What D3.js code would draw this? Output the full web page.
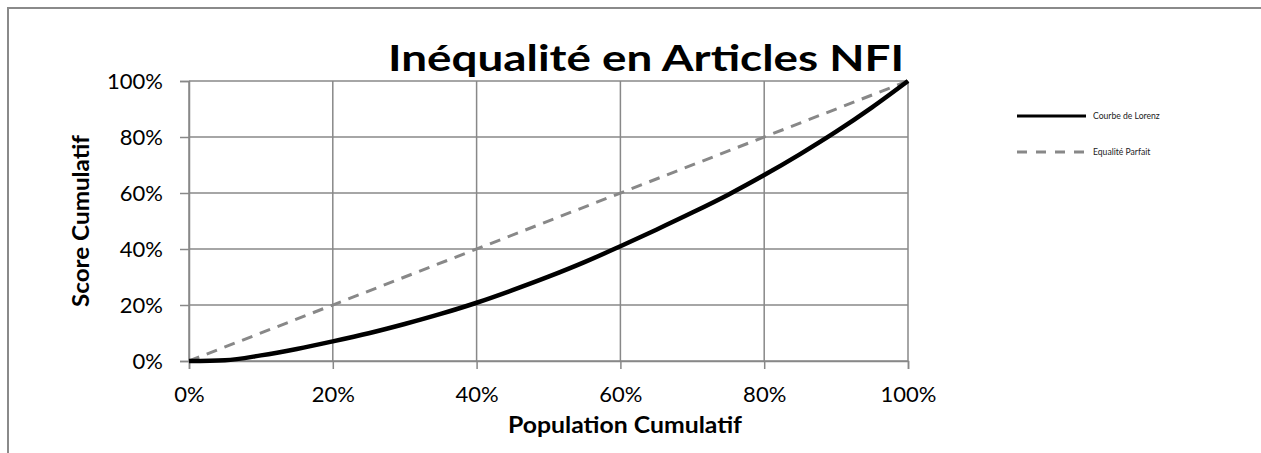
<!DOCTYPE html>
<html>
<head>
<meta charset="utf-8">
<script src="https://cdn.jsdelivr.net/npm/d3@7.9.0/dist/d3.min.js"></script>
<style>
  body { margin: 0; background: #fff; }
  svg { display: block; font-family: Lato, "Open Sans", sans-serif; }
</style>
</head>
<body>
<svg id="chart" width="1261" height="453"></svg>
<script>
// data
const population = [0, 0.05, 0.10, 0.15, 0.20, 0.25, 0.30, 0.35, 0.40, 0.45, 0.50, 0.55, 0.60, 0.65, 0.70, 0.75, 0.80, 0.85, 0.90, 0.95, 1.0];
const lorenz     = [0, 0.003, 0.020, 0.043, 0.070, 0.099, 0.132, 0.168, 0.208, 0.253, 0.301, 0.353, 0.410, 0.469, 0.530, 0.594, 0.664, 0.739, 0.819, 0.906, 1.0];
const equality   = [0, 1];
const ticks = [0, 0.2, 0.4, 0.6, 0.8, 1.0];
const seriesNames = ['Courbe de Lorenz', 'Equalité Parfait'];

const svg = d3.select('#chart');
const grey = '#888888';

// outer frame (only left and top edges are visible)
svg.append('rect')
    .attr('x', 8).attr('y', 8)
    .attr('width', 1400).attr('height', 600)
    .attr('fill', 'none')
    .attr('stroke', '#8a8a8a')
    .attr('stroke-width', 2);

const x = d3.scaleLinear().domain([0, 1]).range([189, 908]);
const y = d3.scaleLinear().domain([0, 1]).range([361, 81]);
const pct = d3.format('.0%');

// gridlines
svg.append('g')
    .selectAll('line')
    .data(ticks)
    .join('line')
    .attr('x1', x(0)).attr('x2', x(1))
    .attr('y1', (d) => y(d)).attr('y2', (d) => y(d))
    .attr('stroke', grey).attr('stroke-width', 1.5);

svg.append('g')
    .selectAll('line')
    .data(ticks)
    .join('line')
    .attr('x1', (d) => x(d)).attr('x2', (d) => x(d))
    .attr('y1', y(0)).attr('y2', y(1))
    .attr('stroke', grey).attr('stroke-width', 1.5);

// axes
const xAxis = svg.append('g')
    .attr('transform', `translate(0,${y(0)})`)
    .call(d3.axisBottom(x).tickValues(ticks).tickFormat(pct).tickSize(8).tickPadding(17));
const yAxis = svg.append('g')
    .attr('transform', `translate(${x(0)},0)`)
    .call(d3.axisLeft(y).tickValues(ticks).tickFormat(pct).tickSize(9).tickPadding(17));

[xAxis, yAxis].forEach((g) => {
    g.select('.domain').attr('stroke', grey).attr('stroke-width', 1.5);
    g.selectAll('.tick line').attr('stroke', grey).attr('stroke-width', 1.5);
    g.selectAll('.tick text')
        .attr('fill', '#000')
        .style('font-family', 'Lato, sans-serif')
        .style('font-size', '22px');
});
yAxis.selectAll('.tick text').attr('dy', '0.36em');

// lines
const line = d3.line()
    .x((d) => x(d[0]))
    .y((d) => y(d[1]))
    .curve(d3.curveMonotoneX);

svg.append('path')
    .datum(equality.map((v) => [v, v]))
    .attr('d', line)
    .attr('fill', 'none')
    .attr('stroke', grey)
    .attr('stroke-width', 3)
    .attr('stroke-dasharray', '11,8');

svg.append('path')
    .datum(population.map((p, i) => [p, lorenz[i]]))
    .attr('d', line)
    .attr('fill', 'none')
    .attr('stroke', '#000')
    .attr('stroke-width', 4.5)
    .attr('stroke-linejoin', 'round');

// title and axis titles
svg.append('text')
    .attr('x', 646).attr('y', 71)
    .attr('text-anchor', 'middle')
    .attr('font-weight', 'bold')
    .attr('font-size', 37)
    .attr('textLength', 516)
    .attr('lengthAdjust', 'spacingAndGlyphs')
    .text('Inéqualité en Articles NFI');

svg.append('text')
    .attr('x', 625).attr('y', 433)
    .attr('text-anchor', 'middle')
    .attr('font-weight', 'bold')
    .attr('font-size', 23)
    .attr('textLength', 234)
    .attr('lengthAdjust', 'spacingAndGlyphs')
    .text('Population Cumulatif');

svg.append('text')
    .attr('transform', `translate(89,${(y(0) + y(1)) / 2}) rotate(-90)`)
    .attr('text-anchor', 'middle')
    .attr('font-weight', 'bold')
    .attr('font-size', 23)
    .attr('textLength', 172)
    .attr('lengthAdjust', 'spacingAndGlyphs')
    .text('Score Cumulatif');

// legend
const legend = svg.append('g');
const legendY = [116, 152];
legend.selectAll('line')
    .data(seriesNames)
    .join('line')
    .attr('x1', 1017).attr('x2', 1086)
    .attr('y1', (d, i) => legendY[i]).attr('y2', (d, i) => legendY[i])
    .attr('stroke', (d, i) => (i === 0 ? '#000' : grey))
    .attr('stroke-width', 3)
    .attr('stroke-dasharray', (d, i) => (i === 0 ? null : '10,9'));
legend.selectAll('text')
    .data(seriesNames)
    .join('text')
    .attr('x', 1093)
    .attr('y', (d, i) => legendY[i])
    .attr('dy', '0.35em')
    .attr('font-size', 8.6)
    .attr('fill', '#222')
    .text((d) => d);
</script>
</body>
</html>
